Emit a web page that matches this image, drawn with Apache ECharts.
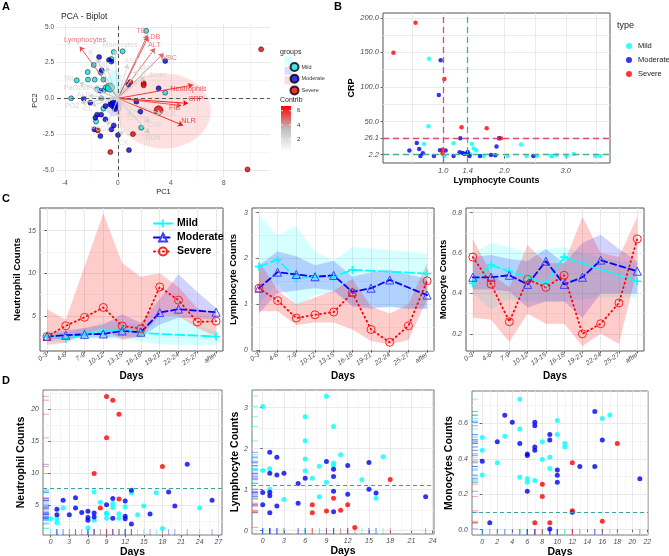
<!DOCTYPE html>
<html>
<head>
<meta charset="utf-8">
<script src="https://cdn.jsdelivr.net/npm/echarts@6.0.0/dist/echarts.min.js"></script>
<style>html,body{margin:0;padding:0;background:#fff;}#chart{width:669px;height:556px;}</style>
</head>
<body>
<div id="chart"></div>
<script>
// ================= DATA =================
// ---- Panel A: PCA biplot ----
const pcaMild = [[2.14,4.72],[0.36,3.29],[-0.31,3.24],[-0.49,2.75],[-1.82,2.33],[-2.28,1.84],[-2.26,1.31],[-3.11,1.26],[-1.75,1.31],[-1.29,1.80],[-1.09,1.31],[-1.57,0.63],[-0.69,0.79],[-1.07,0.56],[-0.92,0.77],[-0.77,0.68],[-3.53,0.0],[-1.25,0.0],[-1.09,-0.72],[3.58,0.40],[1.77,-2.05],[-1.65,-1.62]];
const pcaModerate = [[-1.42,2.89],[-0.67,2.68],[-0.49,2.57],[3.58,2.61],[-1.22,1.96],[0.79,0.96],[3.08,0.70],[-1.32,0.54],[-2.08,-0.30],[-2.58,-0.02],[-0.57,-0.42],[-0.31,-0.49],[-0.24,-0.58],[1.40,-0.23],[1.70,-0.93],[-0.94,-0.54],[-1.26,-1.14],[-1.57,-1.14],[-1.70,-1.35],[-1.77,-2.17],[-1.32,-2.64],[-0.31,-1.89],[-0.49,-2.17],[0.01,-2.57],[0.84,-3.62],[-0.94,-1.47],[-0.40,-0.30],[-0.20,-0.75]];
const pcaSevere = [[0.94,1.14],[1.95,1.05],[1.95,0.91],[1.14,-2.50],[-0.57,-3.76],[-1.52,-2.24],[10.83,3.43],[9.80,-4.97]];
const pcaCentroids = [[-0.60,0.75],[-0.30,-0.45],[3.08,-0.84]];
// ellipses: centerX, centerY, radiusX, radiusY  (Mild, Moderate, Severe)
const pcaEllipses = [[-0.25,1.0,0.6,1.0],[-0.3,-0.55,0.6,0.7],[3.46,-0.88,3.57,2.63]];
const varNames   = ['Lymphocytes','Monocytes','TB','DB','ALT','WBC','K','RBC','AST','AMY','D.dimer','Na','PaO2toFiO2','ALB','PO2','CL','Neutrophils','CRP','FIB','NLR','MLR','CRE','BUN','CK','PCO2','LDH'];
const varX       = [-2.88,-0.20,2.25,2.30,2.80,3.45,-1.60,-0.85,0.75,1.50,2.00,-2.90,-1.80,-2.20,-2.80,-2.00,5.67,5.30,4.80,4.92,3.30,2.40,2.40,0.30,-0.80,1.00];
const varY       = [3.62,3.35,4.45,4.30,3.50,3.15,2.75,2.20,2.40,1.95,1.50,1.10,0.60,0.20,-0.30,-0.50,0.93,-0.35,-0.50,-1.89,-1.10,-1.65,-2.45,-2.60,-1.90,-1.20];
const varContrib = [5.3,2.6,5.0,5.4,5.0,4.9,2.6,2.5,2.3,2.2,2.7,2.6,2.8,2.4,2.8,2.5,6.0,6.6,5.6,6.3,2.7,2.6,2.9,2.4,2.5,2.3];
const varLabelX  = [-2.48,0.16,1.75,2.83,2.75,3.84,-2.05,-1.09,1.02,2.13,2.70,-3.71,-2.58,-2.60,-3.46,-2.28,5.34,5.90,4.29,5.34,3.84,2.83,2.66,0.44,-1.32,1.25];
const varLabelY  = [4.08,3.73,4.71,4.29,3.73,2.85,3.20,2.31,2.61,2.15,1.61,1.40,0.75,0.25,-0.54,-0.77,0.63,-0.02,-0.68,-1.61,-1.12,-1.87,-2.80,-3.15,-2.12,-1.40];
const contribTicks = [2,4,6];
const contribRange = [0.27,6.66];
const pcaXTicks = [-4,0,4,8];
const pcaYTicks = [-5,-2.5,0,2.5,5];

// ---- Panel B: CRP vs lymphocyte ----
const crpMild = [[0.77,140.9],[0.76,43.2],[0.69,17.6],[1.17,18.6],[1.47,17.6],[1.50,10.9],[1.54,8.5],[1.44,2.7],[1.66,0.3],[2.05,0.3],[2.27,16.7],[2.36,0.3],[2.53,0.3],[2.76,0.3],[2.78,0.3],[2.85,1.7],[3.01,0.3],[3.13,3.2],[3.48,0.3],[3.56,0.3],[1.02,0.3]];
const crpModerate = [[0.96,138.5],[0.93,88.4],[1.28,25.8],[1.91,25.8],[0.45,8.0],[0.57,19.0],[0.61,10.4],[0.67,4.1],[0.63,0.3],[0.85,0.3],[0.95,8.5],[1.04,8.0],[1.17,0.3],[1.27,5.6],[1.32,4.6],[1.35,3.2],[1.40,6.0],[1.40,3.6],[1.43,0.3],[1.60,0.3],[1.78,1.7],[1.85,1.2],[1.87,13.8],[2.47,0.3]];
const crpSevere = [[0.55,193.0],[0.19,149.6],[1.02,111.5],[1.30,41.7],[1.71,40.2],[1.94,25.8],[0.99,9.0],[0.99,3.7]];
const lymphCuts = [1.0,1.4];
const crpCuts = [26.1,2.2];
const crpXTicks = [1.0,1.4,2.0,3.0];
const crpYTicks = [2.2,26.1,50,100,150,200];

// ---- Panel C: counts by day bins (mean + band) ----
const dayBins = ['0-3','4-6','7-9','10-12','13-15','16-18','19-21','22-24','25-27','after'];
const neuMild       = [2.7,2.3,2.9,3.2,3.4,3.0,null,null,null,2.6];
const neuMildLo     = [2.0,1.9,2.3,2.4,2.3,2.0,1.7,1.6,1.6,1.6];
const neuMildHi     = [3.3,3.0,3.6,4.2,4.3,4.0,4.8,5.0,4.0,3.2];
const neuModerate   = [2.6,2.75,2.85,2.9,3.25,3.1,5.4,5.8,null,5.45];
const neuModerateLo = [2.2,2.3,2.5,2.5,2.6,2.5,4.0,4.8,4.7,4.5];
const neuModerateHi = [3.0,3.3,3.6,4.0,5.2,4.2,7.0,9.9,7.8,5.9];
const neuSevere     = [2.6,3.85,4.85,6.0,3.85,3.5,8.4,6.85,4.3,4.4];
const neuSevereLo   = [1.6,1.9,2.9,3.5,2.2,2.6,5.0,5.0,3.6,2.6];
const neuSevereHi   = [5.8,4.6,10.8,17.0,11.2,9.6,10.0,8.4,5.9,5.3];
const lymMild       = [1.82,1.97,1.57,1.6,1.6,1.75,null,null,null,1.67];
const lymMildLo     = [1.0,1.45,0.95,1.2,1.25,1.0,0.95,0.92,0.9,0.9];
const lymMildHi     = [2.95,2.5,2.7,2.15,1.95,2.25,2.22,2.18,2.15,2.1];
const lymModerate   = [1.35,1.70,1.65,1.60,1.63,1.27,1.35,1.53,null,1.20];
const lymModerateLo = [0.8,1.25,1.3,1.35,1.3,0.95,0.9,0.95,0.9,0.9];
const lymModerateHi = [1.85,2.15,2.05,1.85,1.95,1.6,1.7,1.75,1.65,1.55];
const lymSevere     = [1.35,1.08,0.70,0.77,0.83,1.25,0.45,0.17,0.53,1.51];
const lymSevereLo   = [0.85,0.85,0.55,0.6,0.6,0.45,0.2,0.12,0.22,1.1];
const lymSevereHi   = [1.95,1.3,1.0,1.15,1.3,1.55,0.95,0.8,1.0,1.9];
const monMild       = [0.45,0.54,0.51,0.48,0.45,0.58,null,null,null,0.46];
const monMildLo     = [0.40,0.32,0.37,0.36,0.36,0.36,0.37,0.38,0.38,0.38];
const monMildHi     = [0.60,0.65,0.63,0.60,0.62,0.63,0.60,0.58,0.56,0.55];
const monModerate   = [0.48,0.48,0.49,0.445,0.56,0.445,0.48,0.565,null,0.51];
const monModerateLo = [0.42,0.42,0.41,0.33,0.36,0.36,0.28,0.40,0.40,0.40];
const monModerateHi = [0.58,0.59,0.57,0.56,0.62,0.55,0.65,0.69,0.62,0.56];
const monSevere     = [0.58,0.446,0.26,0.47,0.43,0.49,0.20,0.25,0.353,0.67];
const monSevereLo   = [0.28,0.27,0.16,0.30,0.25,0.25,0.14,0.20,0.15,0.52];
const monSevereHi   = [0.67,0.50,0.43,0.64,0.55,0.55,0.78,0.60,0.58,0.78];

// ---- Panel D: counts vs days ----
const neuDaysMild = [[7,7.0],[13,6.9],[17,6.9],[8,5.4],[10,5.2],[10,4.6],[12,4.7],[15,4.8],[2,4.5],[24,4.5],[9,3.7],[9,3.6],[11,3.6],[14,3.45],[11,2.9],[9,2.9],[0,2.8],[1,2.8],[7,2.6],[1,2.2],[6,1.35],[18,1.3]];
const neuDaysModerate = [[22,11.35],[13,7.3],[19,7.0],[26,5.7],[2,5.7],[4,6.1],[10,6.0],[12,5.6],[9,5.0],[20,4.8],[1,4.3],[4,4.5],[6,4.0],[5,3.8],[3,3.45],[1,3.45],[16,3.55],[6,3.0],[6,2.6],[7,3.7],[7,3.1],[10,2.9],[12,3.2],[12,2.8],[13,2.0]];
const neuDaysSevere = [[9,22.0],[10,21.4],[11,19.2],[9,15.5],[7,9.9],[18,11.0],[11,5.9],[8,4.5]];
const lymDaysMild = [[0,3.03],[9,3.28],[6,2.78],[10,2.54],[6,2.19],[11,1.85],[17,1.80],[6,1.75],[10,1.65],[10,1.59],[8,1.57],[0,1.47],[1,1.51],[6,1.46],[7,1.28],[14,1.24],[9,1.18],[1,1.01],[3,0.76],[8,0.83],[16,0.79]];
const lymDaysModerate = [[1,1.91],[2,1.79],[9,1.69],[15,1.66],[12,1.59],[10,1.50],[3,1.40],[1,1.40],[2,1.36],[10,1.32],[6,1.28],[5,1.15],[15,1.01],[0,0.93],[1,0.94],[10,0.96],[12,0.89],[16,0.92],[1,0.85],[23,0.83],[0,0.63],[5,0.67],[2,0.60],[1,0.44],[10,0.46]];
const lymDaysSevere = [[18,1.25],[10,0.79],[7,0.63],[12,0.63],[7,0.44],[9,0.48],[11,0.50],[13,0.08]];
const monDaysMild = [[5,0.737],[0,0.52],[3,0.528],[5,0.569],[10,0.617],[10,0.537],[16,0.628],[17,0.648],[0,0.448],[2,0.378],[8,0.496],[11,0.487],[11,0.467],[8,0.396],[9,0.409],[0,0.309],[5,0.296],[6,0.287],[6,0.268],[7,0.278],[9,0.346]];
const monDaysModerate = [[3,0.646],[4,0.607],[7,0.607],[7,0.587],[15,0.667],[2,0.496],[5,0.487],[9,0.537],[9,0.507],[16,0.507],[7,0.467],[7,0.448],[6,0.428],[6,0.419],[0,0.387],[13,0.357],[15,0.357],[10,0.337],[10,0.307],[10,0.268],[21,0.287],[6,0.217],[12,0.098],[1,0.039],[9,0.004]];
const monDaysSevere = [[18,0.487],[12,0.378],[8,0.257],[8,0.187],[12,0.107],[7,0.039],[9,0.039],[16,0.048]];
const neuCut = 7.6, lymCut = 1.1, monCut = 0.1;
const neuDayTicks = [0,3,6,9,12,15,18,21,24,27];
const lymDayTicks = [0,3,6,9,12,15,18,21,24];
const monDayTicks = [0,2,4,6,8,10,12,14,16,18,20,22];

// ================= STYLE / HELPERS =================
const FONT = "'Liberation Sans', Arial, sans-serif";
const MAJ = '#E3E3E3', MIN = '#F2F2F2';
const CYAN = '#00FFFF', BLUE = '#0000FF', RED = '#FF0000';

function range(a, b, s) { const r = []; for (let v = a; v <= b + 1e-9; v += s) r.push(Math.round(v * 1e6) / 1e6); return r; }

function mkAxis(gi, min, max, o) {
  return {
    type: 'value', gridIndex: gi, min: min, max: max,
    axisLine: { show: false },
    axisTick: { show: false, customValues: o.grid },
    axisLabel: {
      show: true, customValues: o.labels, formatter: o.fmt || (v => String(v)),
      fontSize: o.fs || 7, color: o.lc || '#4D4D4D', fontStyle: o.italic ? 'italic' : 'normal',
      fontFamily: FONT, margin: o.margin == null ? 3 : o.margin, rotate: o.rotate || 0
    },
    splitLine: { show: true, lineStyle: { color: o.gc || MAJ, width: 0.8 } },
    name: o.name || '', nameLocation: 'middle', nameGap: o.nameGap || 15,
    nameTextStyle: { fontFamily: FONT, fontWeight: o.nameNormal ? 'normal' : 'bold', fontSize: o.nfs || 10, color: o.nc || '#000' }
  };
}
// extra axis that only draws small outside tick marks at the labelled values
function tickAxis(gi, min, max, values, isX) {
  return {
    type: 'value', gridIndex: gi, min: min, max: max, position: isX ? 'bottom' : 'left', offset: 0,
    axisLine: { show: false },
    axisTick: { show: true, customValues: values, length: 2.5, inside: false, lineStyle: { color: '#444', width: 0.8 } },
    axisLabel: { show: false }, splitLine: { show: false }
  };
}

function contribColor(v) {
  const lo = contribRange[0], hi = contribRange[1], mid = (lo + hi) / 2;
  const c0 = [255,255,255], c1 = [190,190,190], c2 = [255,0,0];
  let a, b, t;
  if (v <= mid) { a = c0; b = c1; t = (v - lo) / (mid - lo); } else { a = c1; b = c2; t = (v - mid) / (hi - mid); }
  t = Math.max(0, Math.min(1, t));
  return 'rgb(' + a.map((x, i) => Math.round(x + (b[i] - x) * t)).join(',') + ')';
}

function rugSeries(gi, pts, color) {
  return {
    type: 'custom', xAxisIndex: gi, yAxisIndex: gi, data: pts, silent: true, z: 1,
    renderItem: function (params, api) {
      const p = api.coord([api.value(0), api.value(1)]);
      const cs = params.coordSys; const L = 6;
      return { type: 'group', children: [
        { type: 'line', shape: { x1: cs.x, y1: p[1], x2: cs.x + L, y2: p[1] }, style: { stroke: color, lineWidth: 1, opacity: 0.45 } },
        { type: 'line', shape: { x1: p[0], y1: cs.y + cs.height, x2: p[0], y2: cs.y + cs.height - L }, style: { stroke: color, lineWidth: 1, opacity: 0.45 } }
      ] };
    }
  };
}

// band polygon between lo and hi arrays, through the axis scales
function bandSeries(gi, lo, hi, color) {
  return {
    type: 'custom', xAxisIndex: gi, yAxisIndex: gi, silent: true, z: 1, clip: true,
    data: [[0, lo[0]]],
    renderItem: function (params, api) {
      const pts = [];
      for (let i = 0; i < lo.length; i++) pts.push(api.coord([i, lo[i]]));
      for (let i = hi.length - 1; i >= 0; i--) pts.push(api.coord([i, hi[i]]));
      return { type: 'polygon', shape: { points: pts }, style: { fill: color } };
    }
  };
}

// ================= AXES =================
const xAxes = [], yAxes = [];
xAxes.push(mkAxis(0, -4.6, 11.5, { grid: range(-4, 10, 2), gc: [MAJ, MIN], labels: pcaXTicks, fs: 6.5, name: 'PC1', nameGap: 9, nfs: 7.5, nameNormal: true, nc: '#222', margin: 3 }));
yAxes.push(mkAxis(0, -5.5, 5.2, { grid: range(-5, 5, 1.25), gc: [MAJ, MIN], labels: pcaYTicks, fmt: v => v.toFixed(1), fs: 6.5, name: 'PC2', nameGap: 11, nfs: 7.5, nameNormal: true, nc: '#222', margin: 3 }));
xAxes.push(mkAxis(1, 0.02, 3.72, { grid: [0.5, 1.0, 1.4, 2.0, 2.5, 3.0, 3.5], gc: '#E6E6E6', labels: crpXTicks, fmt: v => v.toFixed(1), italic: true, fs: 7.5, name: 'Lymphocyte Counts', nameGap: 9, nfs: 9, margin: 4 }));
yAxes.push(mkAxis(1, -10, 207, { grid: [2.2, 26.1, 50, 75, 100, 125, 150, 175, 200], gc: '#E6E6E6', labels: crpYTicks, fmt: v => v.toFixed(1), italic: true, fs: 7.5, name: 'CRP', nameGap: 26, nfs: 9, margin: 4 }));
const cY = [
  { min: 0.9, max: 17.65, grid: range(2.5, 17.5, 2.5), gc: [MIN, MAJ], labels: [5, 10, 15], fmt: v => String(v), name: 'Neutrophil Counts', gap: 18 },
  { min: -0.02, max: 3.1, grid: range(0, 3, 0.5), gc: [MAJ, MIN], labels: [0, 1, 2, 3], fmt: v => String(v), name: 'Lymphocyte Counts', gap: 14 },
  { min: 0.115, max: 0.823, grid: range(0.2, 0.8, 0.1), gc: [MAJ, MIN], labels: [0.2, 0.4, 0.6, 0.8], fmt: v => v.toFixed(1), name: 'Monocyte Counts', gap: 14 }
];
cY.forEach((c, k) => {
  xAxes.push(mkAxis(2 + k, -0.37, 9.37, { grid: range(0, 9, 1), gc: MAJ, labels: range(0, 9, 1), fmt: v => dayBins[Math.round(v)], italic: true, rotate: 35, fs: 6.8, name: 'Days', nameGap: 20, nfs: 10, margin: 3 }));
  yAxes.push(mkAxis(2 + k, c.min, c.max, { grid: c.grid, gc: c.gc, labels: c.labels, fmt: c.fmt, italic: true, fs: 7, name: c.name, nameGap: c.gap, nfs: 9.5, margin: 4 }));
});
const dAx = [
  { xmin: -1.24, xmax: 27.6, xgrid: range(0, 27, 1.5), xl: neuDayTicks, ymin: 0.27, ymax: 23.0, ygrid: range(2.5, 22.5, 2.5), ygc: [MIN, MAJ], yl: [5, 10, 15, 20], yf: v => String(v), name: 'Neutrophil Counts', gap: 16 },
  { xmin: -1.51, xmax: 24.18, xgrid: range(0, 24, 1.5), xl: lymDayTicks, ymin: -0.08, ymax: 3.43, ygrid: range(0, 3, 0.5), ygc: [MAJ, MIN], yl: [0, 1, 2, 3], yf: v => String(v), name: 'Lymphocyte Counts', gap: 10 },
  { xmin: -1.37, xmax: 22.09, xgrid: range(0, 22, 1), xl: monDayTicks, ymin: -0.03, ymax: 0.783, ygrid: range(0, 0.7, 0.1), ygc: [MAJ, MIN], yl: [0, 0.2, 0.4, 0.6], yf: v => v.toFixed(1), name: 'Monocytes Counts', gap: 16 }
];
dAx.forEach((d, k) => {
  xAxes.push(mkAxis(5 + k, d.xmin, d.xmax, { grid: d.xgrid, gc: [MAJ, MIN], labels: d.xl, italic: true, fs: 7, name: 'Days', nameGap: 6, nfs: 10.5, margin: 3.5 }));
  yAxes.push(mkAxis(5 + k, d.ymin, d.ymax, { grid: d.ygrid, gc: d.ygc, labels: d.yl, fmt: d.yf, italic: true, fs: 7, name: d.name, nameGap: d.gap, nfs: 10.5, margin: 4 }));
});
// tick-only companion axes for the boxed panels (grids 1..7)
for (let gi = 1; gi <= 7; gi++) {
  xAxes.push(tickAxis(gi, xAxes[gi].min, xAxes[gi].max, xAxes[gi].axisLabel.customValues, true));
  yAxes.push(tickAxis(gi, yAxes[gi].min, yAxes[gi].max, yAxes[gi].axisLabel.customValues, false));
}

// ================= SERIES =================
const series = [];
// --- A ---
const ellFill = ['rgba(0,255,255,0.18)', 'rgba(0,0,255,0.14)', 'rgba(255,0,0,0.12)'];
series.push({
  type: 'custom', xAxisIndex: 0, yAxisIndex: 0, data: pcaEllipses, silent: true, z: 1,
  renderItem: function (params, api) {
    const cx = api.value(0), cy = api.value(1), rx = api.value(2), ry = api.value(3);
    const pts = [];
    for (let k = 0; k < 72; k++) { const t = k / 72 * 2 * Math.PI; pts.push(api.coord([cx + rx * Math.cos(t), cy + ry * Math.sin(t)])); }
    return { type: 'polygon', shape: { points: pts }, style: { fill: ellFill[params.dataIndex] } };
  }
});
const aGroups = [['aMild', pcaMild, '#19E0E0'], ['aModerate', pcaModerate, '#0000EE'], ['aSevere', pcaSevere, '#EE0000']];
aGroups.forEach((g, k) => {
  const s = { type: 'scatter', name: g[0], xAxisIndex: 0, yAxisIndex: 0, data: g[1], symbolSize: 5,
    itemStyle: { color: g[2], borderColor: '#000', borderWidth: 0.6 }, z: 3 };
  if (k === 0) s.markLine = { silent: true, symbol: 'none', label: { show: false }, lineStyle: { type: [4, 3], color: '#555', width: 1 }, data: [{ xAxis: 0 }, { yAxis: 0 }], animation: false };
  series.push(s);
});
series.push({ type: 'scatter', xAxisIndex: 0, yAxisIndex: 0, data: pcaCentroids.map((p, i) => ({ value: p, itemStyle: { color: aGroups[i][2] } })), symbolSize: 9, itemStyle: { borderColor: '#000', borderWidth: 0.6 }, z: 3, silent: true });
series.push({
  type: 'lines', coordinateSystem: 'cartesian2d', xAxisIndex: 0, yAxisIndex: 0, symbol: ['none', 'arrow'], symbolSize: 5, silent: true, z: 5,
  data: varNames.map((n, i) => ({ coords: [[0, 0], [varX[i], varY[i]]], lineStyle: { color: contribColor(varContrib[i]), width: 0.9, opacity: 1 } }))
});
series.push({
  type: 'scatter', xAxisIndex: 0, yAxisIndex: 0, symbolSize: 1, silent: true, z: 6,
  itemStyle: { color: 'rgba(0,0,0,0)' },
  label: { show: true, position: 'inside', formatter: '{b}', fontSize: 7.2, fontFamily: FONT },
  data: varNames.map((n, i) => ({ name: n, value: [varLabelX[i], varLabelY[i]], label: { color: contribColor(varContrib[i]) } }))
});

// --- B ---
const bGroups = [['bMild', crpMild, CYAN], ['bModerate', crpModerate, '#0000F0'], ['bSevere', crpSevere, RED]];
bGroups.forEach((g, k) => {
  const s = { type: 'scatter', name: g[0], xAxisIndex: 1, yAxisIndex: 1, data: g[1], symbolSize: 4.5, itemStyle: { color: g[2] }, z: 3 };
  if (k === 2) s.markLine = { silent: true, symbol: 'none', label: { show: false }, animation: false,
    lineStyle: { type: [6, 4], width: 1.3 },
    data: [{ xAxis: lymphCuts[0], lineStyle: { color: '#DC4A7A' } }, { yAxis: crpCuts[0], lineStyle: { color: '#DC4A7A' } },
           { xAxis: lymphCuts[1], lineStyle: { color: '#47B08E' } }, { yAxis: crpCuts[1], lineStyle: { color: '#47B08E' } }] };
  series.push(s);
});

// --- C ---
const lineStyles = {
  Mild: { color: CYAN, band: 'rgba(0,255,255,0.16)', dash: [9, 4], symbol: 'path://M4,0H6V4H10V6H6V10H4V6H0V4H4Z', ss: 8, fill: CYAN, border: CYAN, bw: 0 },
  Moderate: { color: BLUE, band: 'rgba(30,30,255,0.2)', dash: [6, 3.5], symbol: 'triangle', ss: 8, fill: 'rgba(255,255,255,0)', border: '#3D3DFF', bw: 1 },
  Severe: { color: RED, band: 'rgba(255,0,0,0.2)', dash: [1, 3.5], symbol: 'circle', ss: 8, fill: 'rgba(255,255,255,0)', border: '#FF2020', bw: 1 }
};
const cPanels = [
  { gi: 2, d: { Mild: [neuMild, neuMildLo, neuMildHi], Moderate: [neuModerate, neuModerateLo, neuModerateHi], Severe: [neuSevere, neuSevereLo, neuSevereHi] } },
  { gi: 3, d: { Mild: [lymMild, lymMildLo, lymMildHi], Moderate: [lymModerate, lymModerateLo, lymModerateHi], Severe: [lymSevere, lymSevereLo, lymSevereHi] } },
  { gi: 4, d: { Mild: [monMild, monMildLo, monMildHi], Moderate: [monModerate, monModerateLo, monModerateHi], Severe: [monSevere, monSevereLo, monSevereHi] } }
];
const groupKeys = ['Mild', 'Moderate', 'Severe'];
cPanels.forEach(p => {
  groupKeys.forEach(k => {
    const arr = p.d[k];
    series.push(bandSeries(p.gi, arr[1], arr[2], lineStyles[k].band));
  });
  groupKeys.forEach(k => {
    const st = lineStyles[k], arr = p.d[k];
    series.push({ type: 'line', name: p.gi === 2 ? k : ('c' + p.gi + k), xAxisIndex: p.gi, yAxisIndex: p.gi,
      data: arr[0].map((v, i) => [i, v]).filter(d => d[1] != null),
      symbol: st.symbol, symbolSize: st.ss, showSymbol: true,
      itemStyle: { color: st.fill, borderColor: st.border, borderWidth: st.bw },
      lineStyle: { color: st.color, width: 1.8, type: st.dash, cap: 'round' }, z: 3 });
  });
});

// --- D ---
const dPanels = [
  { gi: 5, d: [neuDaysMild, neuDaysModerate, neuDaysSevere], cut: neuCut },
  { gi: 6, d: [lymDaysMild, lymDaysModerate, lymDaysSevere], cut: lymCut },
  { gi: 7, d: [monDaysMild, monDaysModerate, monDaysSevere], cut: monCut }
];
const dCols = [CYAN, '#0000F0', RED];
const rugCols = ['#00E5E5', '#3030FF', '#FF3030'];
dPanels.forEach(p => {
  p.d.forEach((pts, k) => series.push(rugSeries(p.gi, pts, rugCols[k])));
  p.d.forEach((pts, k) => {
    const s = { type: 'scatter', xAxisIndex: p.gi, yAxisIndex: p.gi, data: pts, symbolSize: 5, itemStyle: { color: dCols[k] }, z: 3 };
    if (k === 0) s.markLine = { silent: true, symbol: 'none', label: { show: false }, animation: false, lineStyle: { type: [4, 3], color: '#38A3A3', width: 1.1 }, data: [{ yAxis: p.cut }] };
    series.push(s);
  });
});

// ================= GRAPHICS (titles, legends keys, colorbar) =================
function txt(x, y, s, size, weight, color) {
  return { type: 'text', x: x, y: y, z: 100, style: { text: s, fill: color || '#000', font: (weight || 'normal') + ' ' + size + 'px ' + FONT, align: 'left', verticalAlign: 'middle', textAlign: 'left', textVerticalAlign: 'middle' } };
}
const cbTop = 106, cbBot = 151.7, cbX = 281, cbW = 10;
const cbY = v => cbBot - (v - contribRange[0]) / (contribRange[1] - contribRange[0]) * (cbBot - cbTop);
const graphics = [
  txt(2, 7, 'A', 11, 'bold'), txt(334, 7, 'B', 11, 'bold'), txt(2, 199, 'C', 11, 'bold'), txt(2, 381, 'D', 11, 'bold'),
  txt(61, 17, 'PCA - Biplot', 8.5, 'normal', '#222'),
  txt(280, 52, 'groups', 7, 'normal', '#222'),
  txt(280, 100, 'Contrib', 7, 'normal', '#222'),
  txt(617, 26, 'type', 9, 'normal', '#222'),
  { type: 'rect', z: 0, shape: { x: 284.5, y: 57, width: 8, height: 8 }, style: { fill: '#D6FFFF' } },
  { type: 'rect', z: 0, shape: { x: 284.5, y: 66.7, width: 8, height: 8 }, style: { fill: '#DCDCFF' } },
  { type: 'rect', z: 0, shape: { x: 284.5, y: 76.4, width: 8, height: 8 }, style: { fill: '#FFDCDC' } },
  { type: 'rect', z: 1, shape: { x: cbX, y: cbTop, width: cbW, height: cbBot - cbTop },
    style: { fill: new echarts.graphic.LinearGradient(0, 0, 0, 1, [
      { offset: 0, color: contribColor(contribRange[1]) },
      { offset: 0.5, color: contribColor((contribRange[0] + contribRange[1]) / 2) },
      { offset: 1, color: contribColor(contribRange[0]) }]) } }
];
contribTicks.forEach(t => {
  graphics.push(txt(297, cbY(t), String(t), 6, 'normal', '#333'));
  graphics.push({ type: 'line', z: 2, shape: { x1: cbX, y1: cbY(t), x2: cbX + 2, y2: cbY(t) }, style: { stroke: '#fff', lineWidth: 0.8 } });
  graphics.push({ type: 'line', z: 2, shape: { x1: cbX + cbW - 2, y1: cbY(t), x2: cbX + cbW, y2: cbY(t) }, style: { stroke: '#fff', lineWidth: 0.8 } });
});

// ================= OPTION =================
const option = {
  animation: false,
  backgroundColor: '#fff',
  textStyle: { fontFamily: FONT },
  grid: [
    { left: 57, top: 24, width: 213, height: 153, show: false, outerBoundsMode: 'none' },
    { left: 383, top: 13, width: 227, height: 150, show: true, borderColor: '#555', borderWidth: 1, backgroundColor: '#fff', outerBoundsMode: 'none' },
    { left: 40, top: 208, width: 183, height: 143, show: true, borderColor: '#555', borderWidth: 1, backgroundColor: '#fff', outerBoundsMode: 'none' },
    { left: 252, top: 208, width: 182, height: 143, show: true, borderColor: '#555', borderWidth: 1, backgroundColor: '#fff', outerBoundsMode: 'none' },
    { left: 466, top: 208, width: 178, height: 143, show: true, borderColor: '#555', borderWidth: 1, backgroundColor: '#fff', outerBoundsMode: 'none' },
    { left: 43, top: 390, width: 179, height: 145, show: true, borderColor: '#777', borderWidth: 1, backgroundColor: '#fff', outerBoundsMode: 'none' },
    { left: 252, top: 390, width: 182, height: 144, show: true, borderColor: '#777', borderWidth: 1, backgroundColor: '#fff', outerBoundsMode: 'none' },
    { left: 472, top: 391, width: 176, height: 144, show: true, borderColor: '#777', borderWidth: 1, backgroundColor: '#fff', outerBoundsMode: 'none' }
  ],
  xAxis: xAxes,
  yAxis: yAxes,
  legend: [
    { data: ['aMild', 'aModerate', 'aSevere'], orient: 'vertical', left: 284.5, top: 57, itemWidth: 8, itemHeight: 8, itemGap: 1.7, icon: 'circle',
      formatter: n => n.slice(1), textStyle: { fontSize: 5.5, color: '#333', fontFamily: FONT, padding: [0, 0, 0, -2] }, selectedMode: false, z: 5 },
    { data: ['bMild', 'bModerate', 'bSevere'], orient: 'vertical', left: 621, top: 37, itemWidth: 6, itemHeight: 6, itemGap: 6, icon: 'circle',
      formatter: n => n.slice(1), textStyle: { fontSize: 7.5, color: '#222', fontFamily: FONT, padding: [0, 0, 0, 1] }, selectedMode: false },
    { data: ['Mild', 'Moderate', 'Severe'], orient: 'vertical', left: 148, top: 213, itemWidth: 18, itemHeight: 10, itemGap: 3,
      textStyle: { fontSize: 10.5, fontWeight: 'bold', color: '#000', fontFamily: FONT }, selectedMode: false }
  ],
  graphic: { elements: graphics },
  series: series
};
const chart = echarts.init(document.getElementById('chart'), null, { renderer: 'canvas', width: 669, height: 556 });
chart.setOption(option);
</script>
</body>
</html>
